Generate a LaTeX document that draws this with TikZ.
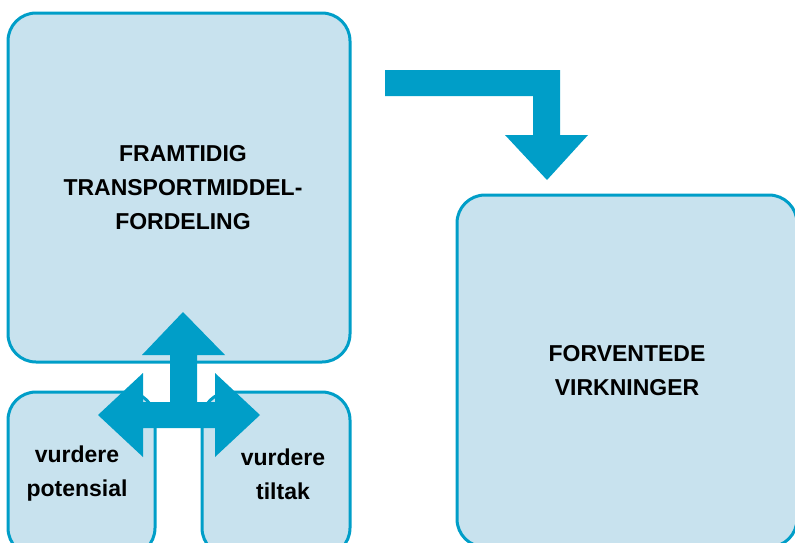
\documentclass[tikz,border=0pt]{standalone}
\usepackage{fontspec}
\setmainfont{Liberation Sans}
\definecolor{ablue}{RGB}{0,158,200}
\definecolor{lblue}{RGB}{200,226,238}
\begin{document}
\begin{tikzpicture}[x=1pt,y=-1pt,
  box/.style={draw=ablue, line width=3pt, fill=lblue, rounded corners=28pt, inner sep=0pt},
  lbl/.style={font=\bfseries\fontsize{23}{34}\selectfont, align=center, text=black},
  blockarrow/.style={fill=ablue, draw=none}]
\useasboundingbox (0,0) rectangle (795,542);
\clip (0,0) rectangle (795,542);
% boxes
\node[box, minimum width=342pt, minimum height=349pt] (main) at (179,187.5) {};
\node[box, minimum width=340pt, minimum height=352pt] (virk) at (627,371) {};
\node[box, minimum width=147pt, minimum height=164pt] (pot) at (81.5,474) {};
\node[box, minimum width=148pt, minimum height=164pt] (tilt) at (276,474) {};
% texts
\node[lbl] (tmain) at ([xshift=4pt]main.center) {FRAMTIDIG\\TRANSPORTMIDDEL-\\FORDELING};
\node[lbl] (tvirk) at ([yshift=0pt]virk.center) {FORVENTEDE\\VIRKNINGER};
\node[lbl] (tpot) at (77,474) {vurdere\\potensial};
\node[lbl] (ttilt) at (283,474) {vurdere\\tiltak};
% bent arrow
\fill[blockarrow] (385,70) -- (560,70) -- (560,135) -- (588,135) -- (547,180) -- (505,135) -- (533,135) -- (533,96) -- (385,96) -- cycle;
% three-way arrow
\fill[blockarrow] (183,312) -- (225,355) -- (197,355) -- (197,402) -- (215,402) -- (215,373) -- (260,415) -- (215,457) -- (215,428) -- (143,428) -- (143,457) -- (98,415) -- (143,373) -- (143,402) -- (170,402) -- (170,355) -- (142,355) -- cycle;
\end{tikzpicture}
\end{document}
